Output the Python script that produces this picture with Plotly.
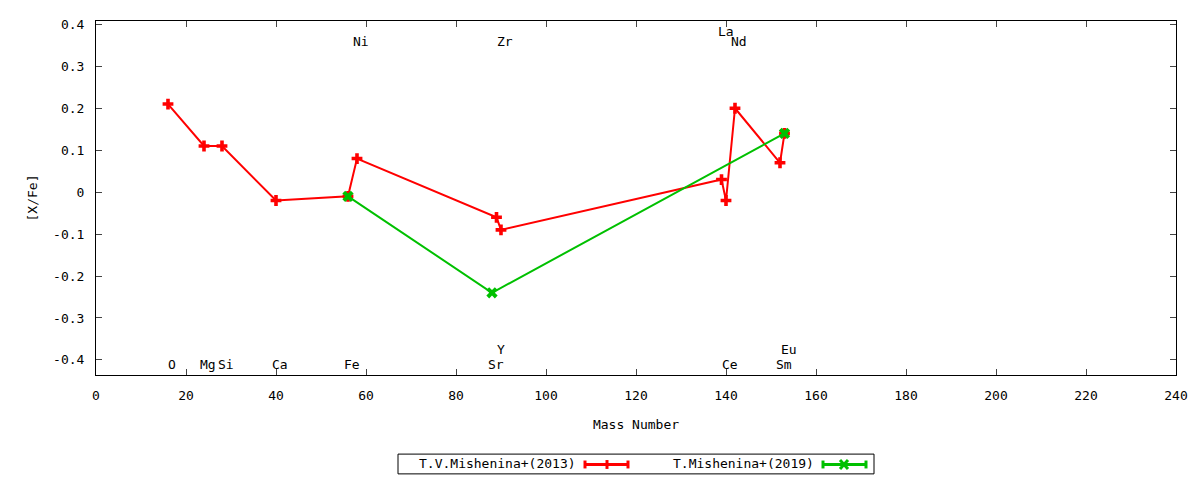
import plotly.graph_objects as go

# [X/Fe] abundances vs mass number
mass_2013 = [16, 24, 28, 40, 56, 58, 89, 90, 139, 140, 142, 152, 153]
xfe_2013 = [0.21, 0.11, 0.11, -0.02, -0.01, 0.08, -0.06, -0.09, 0.03, -0.02, 0.20, 0.07, 0.14]
name_2013 = "T.V.Mishenina+(2013)"

mass_2019 = [56, 88, 153]
xfe_2019 = [-0.01, -0.24, 0.14]
name_2019 = "T.Mishenina+(2019)"

# element labels drawn inside the plot
label_text = ["O", "Mg", "Si", "Ca", "Fe", "Ni", "Sr", "Y", "Zr", "La", "Ce", "Nd", "Sm", "Eu"]
label_mass = [16, 24, 28, 40, 56, 58, 88, 89, 90, 139, 140, 142, 152, 153]
label_y = [-0.41, -0.41, -0.41, -0.41, -0.41, 0.36, -0.41, -0.374, 0.36, 0.382, -0.41, 0.36, -0.41, -0.374]

x_ticks = [0, 20, 40, 60, 80, 100, 120, 140, 160, 180, 200, 220, 240]
y_ticks = [0.4, 0.3, 0.2, 0.1, 0, -0.1, -0.2, -0.3, -0.4]
y_ticktext = ["0.4", "0.3", "0.2", "0.1", "0", "-0.1", "-0.2", "-0.3", "-0.4"]

RED = "#ff0000"
GREEN = "#00c000"
FONT = "DejaVu Sans Mono"

# page has an 8px body margin, so the figure is drawn 8px smaller
OFF = 8
W, H = 1200 - OFF, 480 - OFF
# plot area in page pixels (also used for the hand-drawn gnuplot style key)
L, R, T, B = 96, 1176, 17, 375
def px(x):
    return (x - L) / (R - L)
def py(y):
    return (B - y) / (B - T)

fig = go.Figure()
fig.add_trace(go.Scatter(x=mass_2013, y=xfe_2013, mode="lines+markers", name=name_2013,
                         line=dict(color=RED, width=2),
                         marker=dict(symbol="cross", size=9, color=RED)))
fig.add_trace(go.Scatter(x=mass_2019, y=xfe_2019, mode="lines+markers", name=name_2019,
                         line=dict(color=GREEN, width=2),
                         marker=dict(symbol="x", size=10, color=GREEN)))

for t, m, yy in zip(label_text, label_mass, label_y):
    fig.add_annotation(x=m, y=yy, text=t, showarrow=False, xshift=4,
                       font=dict(family=FONT, size=13, color="black"))

# key box, gnuplot style: text then sample
shapes = [dict(type="rect", xref="paper", yref="paper", x0=px(398), x1=px(874), y0=py(455), y1=py(475),
               line=dict(color="black", width=1))]
key = [(name_2013, RED, 578, 585, 628, 607, "plus"), (name_2019, GREEN, 816, 823, 866, 844, "x")]
for txt, col, tx, s0, s1, sm, mk in key:
    fig.add_annotation(xref="paper", yref="paper", x=px(tx), y=py(465), text=txt, showarrow=False,
                       xanchor="right", yanchor="middle", font=dict(family=FONT, size=13, color="black"))
    shapes.append(dict(type="line", xref="paper", yref="paper", x0=px(s0), x1=px(s1), y0=py(465.5), y1=py(465.5),
                       line=dict(color=col, width=3)))
    for cx in (s0, s1):
        shapes.append(dict(type="line", xref="paper", yref="paper", x0=px(cx), x1=px(cx), y0=py(461.5), y1=py(469.5),
                           line=dict(color=col, width=3)))
    if mk == "plus":
        shapes.append(dict(type="line", xref="paper", yref="paper", x0=px(sm), x1=px(sm), y0=py(461), y1=py(470),
                           line=dict(color=col, width=3)))
    else:
        shapes.append(dict(type="line", xref="paper", yref="paper", x0=px(sm - 4), x1=px(sm + 4), y0=py(461), y1=py(470),
                           line=dict(color=col, width=3)))
        shapes.append(dict(type="line", xref="paper", yref="paper", x0=px(sm - 4), x1=px(sm + 4), y0=py(470), y1=py(461),
                           line=dict(color=col, width=3)))

fig.update_layout(
    width=W, height=H,
    margin=dict(l=L - OFF, r=W - (R - OFF), t=T - OFF, b=H - (B - OFF)),
    paper_bgcolor="white", plot_bgcolor="white",
    showlegend=False,
    font=dict(family=FONT, size=13, color="black"),
    shapes=shapes,
)
fig.update_xaxes(range=[0, 240], tickvals=x_ticks, ticks="inside", ticklen=6, mirror="ticks",
                 showline=True, linecolor="black", linewidth=1, showgrid=False, zeroline=False,
                 ticklabelstandoff=8, tickfont=dict(size=13),
                 title=dict(text="Mass Number", standoff=18, font=dict(size=13)))
fig.update_yaxes(range=[-0.436, 0.408], tickvals=y_ticks, ticktext=y_ticktext, ticks="inside", ticklen=6,
                 mirror="ticks", showline=True, linecolor="black", linewidth=1, showgrid=False, zeroline=False,
                 ticklabelstandoff=8, tickfont=dict(size=13),
                 title=dict(text="[X/Fe]", standoff=12, font=dict(size=13)))

fig.write_html("out.html")
